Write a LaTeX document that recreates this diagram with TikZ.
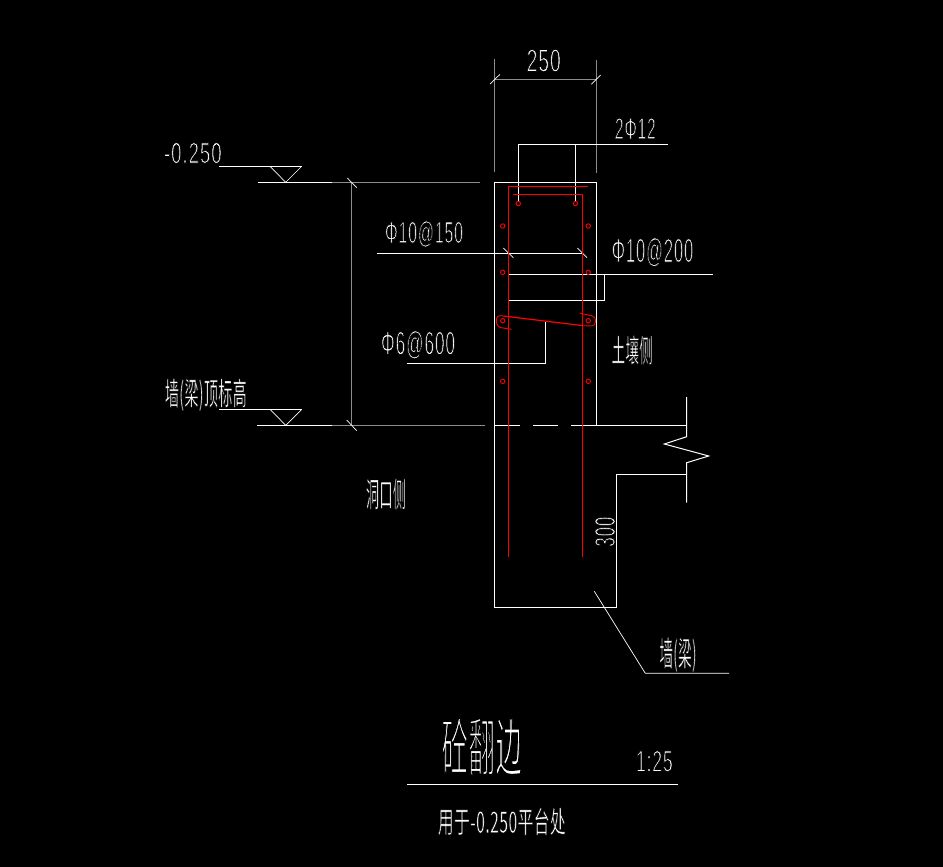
\documentclass[tikz,border=0pt]{standalone}
\usepackage{graphicx}
\usepackage{fontspec}
\setmainfont[LetterSpace=5]{Liberation Sans}
\newfontfamily\cjk[LetterSpace=3]{Noto Sans CJK SC}
\newcommand{\fitbox}[4][0.3]{\resizebox{#2pt}{#3pt}{\special{pdf:code 2 Tr 0 0 0 RG #1 w}#4\special{pdf:code 0 Tr}}}
\definecolor{dimgray}{gray}{0.55}
\definecolor{rebar}{RGB}{255,0,0}
\tikzset{
  wline/.style={draw=white,line width=1pt},
  thinw/.style={draw=white,line width=0.7pt},
  dline/.style={draw=dimgray,line width=1pt},
  rbar/.style={draw=rebar,line width=1.2pt},
  rdot/.style={draw=rebar,line width=0.9pt},
  lbl/.style={text=white,inner sep=0pt,outer sep=0pt,anchor=center}
}
\begin{document}
\begin{tikzpicture}[x=1pt,y=-1pt]
\path[fill=black,use as bounding box] (0,0) rectangle (943,867);

% dimension 250
\draw[dline] (494.5,59) -- (494.5,172);
\draw[dline] (596.5,60) -- (596.5,172.5);
\draw[dline] (494.5,79.3) -- (596.5,79.3);
\draw[thinw] (490,84) -- (500,74.3);
\draw[thinw] (591.3,84.3) -- (600.7,75);

% left dimension and levels
\draw[dline] (332,182.3) -- (480,182.3);
\draw[dline] (332,425.3) -- (485,425.3);
\draw[dline] (351.3,182.3) -- (351.3,425.3);
\draw[thinw] (347.3,178) -- (356.7,187.7);
\draw[thinw] (346.7,420) -- (356.7,430.7);
\draw[wline] (257.7,182.3) -- (332,182.3);
\draw[wline] (257,425.3) -- (332,425.3);
\draw[wline] (219,166.3) -- (301.7,166.3);
\draw[wline] (219,409.3) -- (301.7,409.3);
\draw[thinw] (270,166.3) -- (285.7,182.3) -- (301.7,166.3);
\draw[thinw] (270,409.3) -- (285.7,425.3) -- (301.7,409.3);

% concrete outline
\draw[wline] (596.5,425.3) -- (596.5,182.3) -- (494.5,182.3) -- (494.5,607.7) -- (616.3,607.7) -- (616.3,474.3) -- (686.7,474.3);
\draw[wline] (494.5,425.3) -- (520,425.3);
\draw[wline] (533,425.3) -- (558,425.3);
\draw[wline] (571,425.3) -- (686.7,425.3);
\draw[wline] (686.7,397) -- (686.7,436.7) -- (664.3,444) -- (708.7,456) -- (686.7,462.7) -- (686.7,502.7);

% leaders
\draw[wline] (667.7,144.3) -- (518.3,144.3) -- (518.3,201.7);
\draw[wline] (575.3,144.3) -- (575.3,201.7);
\draw[wline] (377.3,253.3) -- (582.3,253.3);
\draw[thinw] (503.3,248) -- (513.3,257.7);
\draw[thinw] (577.3,248) -- (587,257.7);
\draw[wline] (712.7,274.3) -- (508.3,274.3);
\draw[wline] (604.7,274.3) -- (604.7,300.3) -- (508.3,300.3);
\draw[wline] (406.7,363) -- (545.3,363) -- (545.3,321.7);
\draw[thinw] (594.3,591.3) -- (645.3,673.3) -- (729,673.3);
\draw[wline] (407,784.3) -- (677.7,784.3);

% rebar
\draw[rbar] (587.7,186.3) -- (508.3,186.3) -- (508.3,556.7);
\draw[rbar] (513.3,194.3) -- (582.7,194.3) -- (582.7,556.7);
\draw[rbar] (503.3,316) -- (583.3,325.7);
\draw[rdot] (503.3,316) .. controls (497,314.5) and (496.3,318) .. (496.3,321) .. controls (496.3,325) and (499,328) .. (503,328) -- (511.7,329.3);
\draw[rdot] (580,313.3) -- (591.7,315.7) .. controls (594.5,316.5) and (595.7,318.5) .. (595.7,321) .. controls (595.7,324) and (594,326) .. (591.7,326) -- (583.3,325.7);
\foreach \px/\py in {518.3/203.5,575.5/203.5,502.7/226,588.3/226,502.7/272.3,588.3/272.3,502.7/320.7,588.3/320.7,502.7/381.3,588.3/381.3}
  \draw[rdot] (\px,\py) circle (2.2);

% texts
\node[lbl] (t250) at (543.7,60.5) {\fitbox{34}{22.4}{250}};
\node[lbl] (t2p12) at (635.3,128.5) {\fitbox{40.7}{21}{2Φ12}};
\node[lbl] (tlevel) at (192.8,153) {\fitbox{57.7}{20.6}{-0.250}};
\node[lbl] (tp150) at (424,234) {\fitbox{78}{22}{Φ10@150}};
\node[lbl] (tp200) at (652.5,252.2) {\fitbox{81.6}{24.3}{Φ10@200}};
\node[lbl] (tp600) at (418,344.8) {\fitbox{74}{23.7}{Φ6@600}};
\node[lbl] (tsoil) at (632.2,350) {\fitbox[0.12]{41}{26.6}{\cjk 土壤侧}};
\node[lbl] (ttop) at (205.8,394.8) {\fitbox[0.12]{81.7}{26.3}{\cjk 墙(梁)顶标高}};
\node[lbl] (thole) at (386,494) {\fitbox[0.12]{40}{28}{\cjk 洞口侧}};
\node[lbl,rotate=90] (t300) at (605,531.7) {\fitbox{30}{20}{300}};
\node[lbl] (twall) at (678,655) {\fitbox[0.12]{37}{28}{\cjk 墙(梁)}};
\node[lbl] (ttitle) at (481.7,746.5) {\fitbox[0.3]{80}{53}{\cjk 砼翻边}};
\node[lbl] (tscale) at (654.3,761.2) {\fitbox{36.7}{21}{1:25}};
\node[lbl] (tuse) at (501.8,821.5) {\fitbox[0.15]{127.7}{25}{\cjk 用于-0.250平台处}};
\end{tikzpicture}
\end{document}
